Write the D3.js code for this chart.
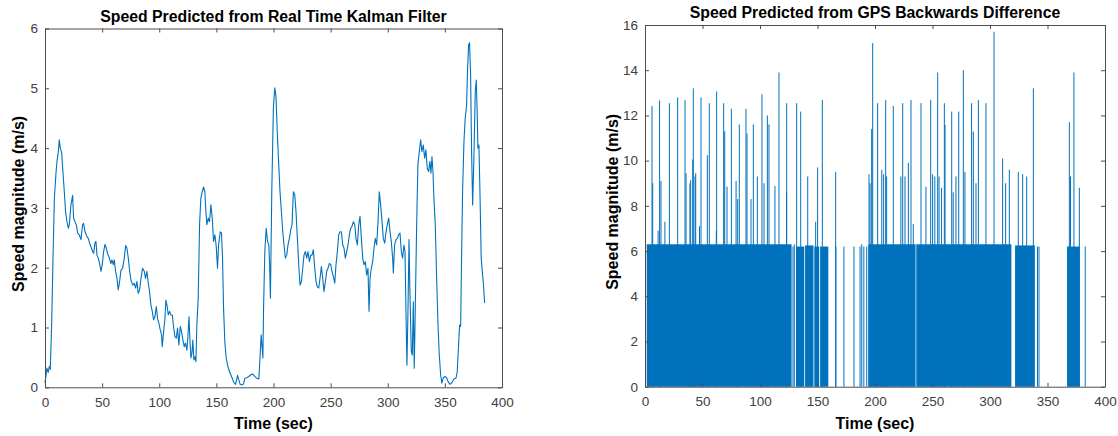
<!DOCTYPE html>
<html>
<head>
<meta charset="utf-8">
<script src="https://cdn.jsdelivr.net/npm/d3@7"></script>
<style>
  body { margin: 0; background: #fff; }
  svg { display: block; font-family: "Liberation Sans", Arial, Helvetica, sans-serif; }
</style>
</head>
<body>
<svg id="chart"></svg>
<script>
// ---- data ----
const timeTicks = [0, 50, 100, 150, 200, 250, 300, 350, 400];
const kalmanTicks = [0, 1, 2, 3, 4, 5, 6];
const gpsTicks = [0, 2, 4, 6, 8, 10, 12, 14, 16];

const panelTitles = ["Speed Predicted from Real Time Kalman Filter", "Speed Predicted from GPS Backwards Difference"];
const xTitle = "Time (sec)";
const yTitle = "Speed magnitude (m/s)";

// Kalman filter speed (sec, m/s)
const kalmanTime = [0, 1.7, 2.8, 3.8, 4.6, 5.8, 7, 8.2, 9.6, 10.5, 11.7, 12.5, 13.4, 14.6, 15.5, 16.9, 18, 19.2, 20.4, 21.3,
  22.7, 24.2, 25, 26.2, 27.4, 28.6, 30, 31.5, 32.9, 33.8, 35, 36.7, 37.9, 39, 40.2, 41.7, 42.6, 43.7, 44.6, 45.5,
  46.6, 47.8, 49, 50.1, 51.3, 52.5, 53.6, 54.8, 56.3, 57.7, 58.6, 59.8, 60.6, 61.8, 63, 64.1, 65.3, 66.5, 67.9, 69.4,
  70.6, 71.7, 72.9, 74.1, 75.2, 76.7, 78.1, 79.3, 80.5, 81.6, 82.8, 84, 85.4, 86.9, 88, 89.2, 90.4, 91.5, 92.7, 93.9,
  95, 96.2, 97.4, 98.5, 99.7, 100.9, 102, 102.6, 103.8, 105, 105.8, 106.7, 107.9, 109, 110.2, 111.4, 112.5, 113.7, 114.9, 116,
  117.2, 118.4, 119.5, 120.7, 121.9, 123, 124.2, 125, 126, 126.8, 127.7, 128.6, 129.4, 130.3, 131.2, 132.1, 132.9, 134.1, 135.3, 136.4,
  137.6, 138.8, 139.9, 140.8, 141.7, 142.9, 144, 145.2, 146.4, 147.5, 148.7, 149.9, 151, 151.9, 153.4, 154.5, 155.4, 156.3, 157.4, 158.6,
  159.8, 161.5, 163.3, 165, 166.8, 168.5, 169.7, 170.8, 172.6, 173.8, 174.9, 176.7, 178.4, 180.2, 181.9, 183.7, 185.4, 187.2, 188.3, 189.2,
  190.1, 190.7, 191.3, 192.4, 193.6, 194.8, 195.9, 196.6, 197.3, 198.5, 199.9, 201.1, 202.2, 203.4, 204.6, 205.7, 206.9, 208.1, 209.2, 210.4,
  211.6, 212.7, 213.9, 215.1, 216.2, 217.4, 218.6, 219.7, 220.9, 222.1, 223.2, 224.4, 225.6, 226.7, 227.9, 229.1, 230.2, 231.4, 232.6, 233.7,
  234.9, 236.1, 237.2, 238.4, 239.6, 240.7, 241.9, 243.1, 244.2, 245.4, 246.6, 247.7, 248.9, 250.1, 251.2, 252.4, 253.6, 254.7, 255.9, 257.1,
  258.2, 259.4, 260.6, 261.7, 262.9, 264.1, 265.2, 266.4, 267.6, 268.7, 269.9, 271.1, 272.2, 273.4, 274.6, 275.7, 276.9, 278.1, 279.2, 280.4,
  281.5, 282.7, 283.6, 284.5, 285.6, 286.8, 288, 289.1, 290.3, 291.5, 292.6, 293.8, 295, 296.1, 297.3, 298.5, 299.6, 300.8, 302, 303.1,
  304.3, 304.9, 306, 307.2, 308.4, 309.5, 310.7, 311.9, 313, 314.2, 315.1, 316, 316.8, 317.7, 318.6, 319.4, 320.6, 321.5, 322.4, 323.2,
  324.1, 325.3, 326.4, 327.6, 328.8, 329.9, 331.1, 332.3, 333.4, 334.6, 335.8, 336.9, 337.8, 338.7, 339.6, 340.4, 341.6, 342.8, 344, 345.1,
  346.3, 347.4, 348.6, 350.1, 351.5, 353, 354.4, 356.2, 357.9, 359.7, 360.8, 362, 362.9, 363.8, 364.6, 365.5, 366.7, 367.8, 369, 369.9,
  370.8, 371.6, 372.5, 373.4, 374.3, 375.4, 376.6, 377.5, 378.3, 378.9, 379.8, 380.7, 381.8, 383, 383.6, 384.8];
const kalmanSpeed = [0.07, 0.32, 0.25, 0.35, 0.30, 1.04, 2.16, 3.16, 3.58, 3.78, 3.94, 4.14, 4.0, 3.92, 3.66, 3.27, 2.94, 2.77, 2.66, 2.72,
  3.05, 3.21, 2.83, 2.77, 2.72, 2.58, 2.55, 2.47, 2.72, 2.74, 2.6, 2.52, 2.49, 2.41, 2.35, 2.27, 2.24, 2.41, 2.44, 2.21,
  2.16, 2.07, 1.94, 2.05, 2.27, 2.39, 2.33, 2.24, 2.16, 2.07, 2.13, 2.05, 2.13, 1.94, 1.82, 1.63, 1.77, 1.96, 1.99, 2.16,
  2.37, 2.33, 2.16, 1.94, 1.80, 1.71, 1.74, 1.66, 1.77, 1.57, 1.63, 1.82, 1.99, 1.94, 1.82, 1.94, 1.74, 1.60, 1.38, 1.27,
  1.13, 1.18, 1.35, 1.15, 1.07, 0.96, 0.88, 0.68, 0.93, 1.15, 1.46, 1.38, 1.21, 1.27, 1.21, 1.21, 1.02, 0.85, 0.82, 0.99,
  0.71, 1.02, 0.93, 0.79, 0.68, 0.74, 0.62, 0.82, 1.18, 0.82, 0.49, 0.57, 0.79, 0.46, 0.51, 0.43, 1.04, 1.49, 2.72, 3.16,
  3.27, 3.35, 3.27, 2.94, 2.72, 2.83, 2.77, 3.05, 2.83, 2.44, 2.55, 2.35, 1.99, 2.38, 2.60, 2.58, 2.16, 1.32, 0.76, 0.49,
  0.37, 0.26, 0.18, 0.09, 0.05, 0.20, 0.12, 0.05, 0.04, 0.06, 0.15, 0.16, 0.18, 0.21, 0.22, 0.18, 0.15, 0.14, 0.54, 0.88,
  0.65, 0.49, 1.32, 2.27, 2.66, 2.44, 2.38, 2.05, 1.49, 3.27, 4.67, 5.01, 4.86, 4.22, 3.72, 3.27, 2.94, 2.60, 2.38, 2.16,
  2.21, 2.38, 2.49, 2.63, 2.72, 3.27, 3.22, 2.94, 2.49, 2.05, 1.71, 1.77, 1.99, 2.21, 2.27, 2.16, 2.27, 2.10, 2.21, 2.21,
  2.30, 1.99, 1.77, 1.68, 1.66, 1.82, 2.02, 1.82, 1.60, 1.77, 1.94, 1.99, 2.07, 2.05, 1.94, 1.85, 1.74, 2.05, 2.27, 2.55,
  2.60, 2.60, 2.38, 2.33, 2.16, 2.27, 2.38, 2.55, 2.66, 2.69, 2.77, 2.72, 2.49, 2.38, 2.72, 2.86, 2.49, 2.16, 2.05, 2.10,
  1.88, 1.99, 1.27, 1.82, 1.99, 2.10, 2.33, 2.49, 2.38, 2.77, 3.27, 3.05, 2.77, 2.49, 2.41, 2.60, 2.72, 2.83, 2.60, 2.44,
  2.16, 1.91, 2.38, 2.47, 2.49, 2.55, 2.58, 2.27, 2.16, 2.38, 2.27, 1.21, 0.37, 1.27, 2.47, 1.60, 0.60, 0.54, 1.43, 0.32,
  1.32, 2.72, 3.72, 3.94, 4.14, 3.94, 4.05, 3.83, 3.97, 3.66, 3.61, 3.78, 3.58, 3.86, 3.61, 3.16, 2.72, 1.82, 1.04, 0.54,
  0.21, 0.07, 0.16, 0.18, 0.16, 0.09, 0.05, 0.08, 0.14, 0.15, 0.26, 0.71, 1.04, 1.02, 2.16, 3.27, 4.11, 4.5, 4.72, 5.34,
  5.73, 5.76, 5.23, 3.94, 3.05, 3.83, 4.95, 5.14, 4.56, 4.0, 4.05, 3.27, 2.16, 1.88, 1.77, 1.41];

// GPS backwards difference: stretches where the signal flips between 0 and ~6.2 m/s (start, end, level)
const gpsBlocks = [
  [1.5, 127.5, 6.3], [131.3, 138.5, 6.2], [139.2, 146.5, 6.25], [147.2, 151.5, 6.2], [152.3, 159.4, 6.2],
  [194.2, 235.3, 6.3], [235.9, 318.6, 6.3], [321.8, 339.0, 6.25], [367.0, 378.0, 6.2]
];
// single samples (sec, m/s)
const gpsSpikes = [
  [128.7, 6.2], [129.8, 6.3], [166, 6.2], [173, 6.2], [181.7, 6.2], [187, 6.2], [188.5, 6.3], [190.3, 6.2], [192.8, 6.2],
  [341.3, 6.2], [342.6, 6.2], [382.8, 6.2],
  [6.1, 12.42], [6.7, 9.0], [11.4, 6.9], [12.7, 12.66], [13.9, 9.1], [17.3, 7.3], [21.2, 12.54], [28.4, 12.8],
  [34.8, 12.68], [35.7, 9.44], [39.1, 9.0], [39.7, 9.14], [41.5, 10.05], [42, 13.2], [43.5, 9.3], [44.1, 9.44],
  [47.4, 7.1], [48.7, 12.8], [54.2, 10.24], [55.9, 12.54], [62, 6.9], [62.3, 13.06], [68.4, 12.54], [69.3, 11.3],
  [71.3, 8.85], [75.1, 12.3], [79.2, 9.1], [80.6, 8.3], [82, 11.6], [87.8, 12.3], [88.7, 11.2], [92.2, 8.3],
  [94.2, 11.6], [97.7, 9.3], [101.7, 12.94], [103.5, 9.0], [106.4, 12.0], [107.8, 11.6], [113, 8.88], [116.5, 13.9],
  [123.1, 8.6], [123.2, 12.54], [131.9, 12.54], [135.4, 12.17], [141.5, 9.3], [148.4, 7.3], [150.1, 9.7], [154.2, 12.68],
  [165.8, 9.5], [194.8, 9.4], [195.7, 9.0], [197.1, 11.4], [198, 15.2], [202.3, 12.54], [205.9, 9.6], [207.5, 9.4],
  [209.3, 12.68], [210.1, 9.3], [215.9, 12.42], [222.5, 9.3], [224.1, 12.54], [226.1, 9.3], [229, 9.9], [231.3, 12.68],
  [233.3, 7.2], [240, 12.54], [244.3, 8.85], [248.4, 12.68], [250.1, 9.4], [252, 9.3], [254.5, 13.9], [255.7, 9.3],
  [257.9, 8.8], [260.3, 12.54], [260.9, 11.58], [266.7, 12.17], [268, 8.6], [270.4, 9.3], [272.8, 12.17], [276.8, 14.0],
  [278.2, 9.5], [284, 12.54], [285.5, 11.28], [287.8, 9.0], [289.9, 12.68], [296.5, 12.54], [303.5, 15.7], [311, 10.1],
  [313.6, 9.0], [316.8, 9.6], [324.6, 9.5], [328.4, 9.4], [331.9, 9.3], [337.7, 13.2], [369, 11.7], [370, 9.3],
  [373, 13.9], [377.7, 8.8]
];

// ---- layout ----
const svgWidth = 1118, svgHeight = 436;
const lineColor = "#0072BD", axisColor = "#4d4d4d";

const svg = d3.select("#chart").attr("width", svgWidth).attr("height", svgHeight);

const panels = [
  { left: 45, right: 502, top: 28.5, bottom: 387.3, yMax: 6, yTicks: kalmanTicks, title: panelTitles[0], labelGap: 21 },
  { left: 645, right: 1105, top: 25, bottom: 386.7, yMax: 16, yTicks: gpsTicks, title: panelTitles[1], labelGap: 27 }
];

function drawPanel(p) {
  const x = d3.scaleLinear().domain([0, 400]).range([p.left, p.right]);
  const y = d3.scaleLinear().domain([0, p.yMax]).range([p.bottom, p.top]);
  const g = svg.append("g");
  const plot = g.append("g");

  const axisStyle = sel => {
    sel.select(".domain").attr("stroke", axisColor);
    sel.selectAll(".tick line").attr("stroke", axisColor);
    sel.selectAll(".tick text").attr("fill", "#404040").style("font-size", "13.5px");
    sel.attr("font-family", null);
  };

  g.append("g").attr("transform", `translate(0,${p.bottom})`)
    .call(d3.axisBottom(x).tickValues(timeTicks).tickFormat(d3.format("d")).tickSize(-4).tickSizeOuter(0).tickPadding(10))
    .call(axisStyle);
  g.append("g").attr("transform", `translate(0,${p.top})`)
    .call(d3.axisTop(x).tickValues(timeTicks).tickSize(-4).tickSizeOuter(0).tickFormat(""))
    .call(axisStyle);
  g.append("g").attr("transform", `translate(${p.left},0)`)
    .call(d3.axisLeft(y).tickValues(p.yTicks).tickFormat(d3.format("d")).tickSize(-4).tickSizeOuter(0).tickPadding(7))
    .call(axisStyle);
  g.append("g").attr("transform", `translate(${p.right},0)`)
    .call(d3.axisRight(y).tickValues(p.yTicks).tickSize(-4).tickSizeOuter(0).tickFormat(""))
    .call(axisStyle);

  g.append("text")
    .attr("x", (p.left + p.right) / 2).attr("y", p.top - 7)
    .attr("text-anchor", "middle")
    .style("font-size", "15.8px").style("font-weight", "bold")
    .text(p.title);

  g.append("text")
    .attr("x", (p.left + p.right) / 2).attr("y", p.bottom + 42)
    .attr("text-anchor", "middle")
    .style("font-size", "16px").style("font-weight", "bold")
    .text(xTitle);

  g.append("text")
    .attr("transform", `translate(${p.left - p.labelGap},${(p.top + p.bottom) / 2 - 4}) rotate(-90)`)
    .attr("text-anchor", "middle")
    .style("font-size", "16px").style("font-weight", "bold")
    .text(yTitle);

  return { x, y, plot };
}

// left: Kalman filter
const k = drawPanel(panels[0]);
const line = d3.line()
  .x((d, i) => k.x(kalmanTime[i]))
  .y(d => k.y(d));
k.plot.append("path")
  .datum(kalmanSpeed)
  .attr("fill", "none")
  .attr("stroke", lineColor)
  .attr("stroke-width", 1.1)
  .attr("stroke-linejoin", "round")
  .attr("d", line);

// right: GPS backwards difference
const gp = drawPanel(panels[1]);
gp.plot.selectAll("rect.block")
  .data(gpsBlocks)
  .enter().append("rect")
  .attr("class", "block")
  .attr("x", d => gp.x(d[0]))
  .attr("width", d => gp.x(d[1]) - gp.x(d[0]))
  .attr("y", d => gp.y(d[2]))
  .attr("height", d => gp.y(0) - gp.y(d[2]))
  .attr("fill", lineColor);

gp.plot.selectAll("line.spike")
  .data(gpsSpikes)
  .enter().append("line")
  .attr("class", "spike")
  .attr("x1", d => gp.x(d[0])).attr("x2", d => gp.x(d[0]))
  .attr("y1", gp.y(0)).attr("y2", d => gp.y(d[1]))
  .attr("stroke", lineColor)
  .attr("stroke-width", 1);
</script>
</body>
</html>
